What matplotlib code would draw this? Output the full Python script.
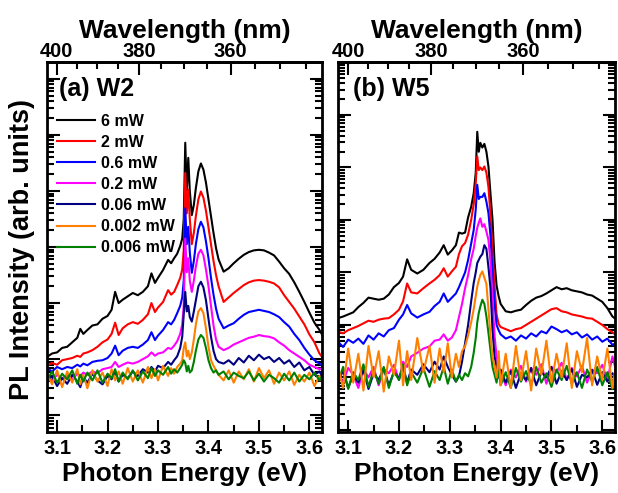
import numpy as np
import matplotlib
matplotlib.use('Agg')
import matplotlib.pyplot as plt
from matplotlib.ticker import MultipleLocator, LogLocator, NullFormatter, FixedLocator, FormatStrFormatter

# ---------------- data (log10 of PL intensity, arb. units) ----------------
powers = ['6 mW', '2 mW', '0.6 mW', '0.2 mW', '0.06 mW', '0.002 mW', '0.006 mW']
colors = ['#000000', '#ff0000', '#0000ff', '#ff00ff', '#000080', '#ff8000', '#008000']

energy_w2 = [3.080, 3.090, 3.100, 3.110, 3.120, 3.130, 3.140, 3.146, 3.152, 3.160,
             3.170, 3.180, 3.190, 3.200, 3.208, 3.215, 3.222, 3.230, 3.240, 3.250,
             3.260, 3.270, 3.280, 3.287, 3.294, 3.300, 3.310, 3.320, 3.326, 3.332,
             3.338, 3.344, 3.348, 3.351, 3.354, 3.357, 3.360, 3.363, 3.367, 3.371,
             3.375, 3.380, 3.385, 3.390, 3.395, 3.400, 3.405, 3.410, 3.415, 3.420,
             3.430, 3.440, 3.450, 3.460, 3.470, 3.480, 3.490, 3.500, 3.510, 3.520,
             3.530, 3.540, 3.550, 3.560, 3.570, 3.580, 3.590, 3.600, 3.610, 3.620, 3.625]

w2_6mW = [2.04, 2.10, 2.12, 2.20, 2.22, 2.30, 2.38, 2.54, 2.45, 2.52,
          2.60, 2.62, 2.72, 2.77, 2.88, 3.20, 3.00, 3.06, 3.12, 3.18,
          3.14, 3.20, 3.30, 3.53, 3.36, 3.45, 3.59, 3.77, 3.71, 3.80,
          3.88, 4.02, 4.15, 4.50, 5.86, 5.00, 5.59, 5.00, 4.57, 4.75,
          5.05, 5.35, 5.49, 5.38, 5.15, 4.85, 4.55, 4.25, 3.98, 3.78,
          3.56, 3.62, 3.71, 3.79, 3.86, 3.91, 3.94, 3.95, 3.94, 3.90,
          3.85, 3.74, 3.62, 3.52, 3.37, 3.20, 3.02, 2.83, 2.65, 2.52, 2.44]
w2_2mW = [1.89, 1.93, 1.90, 1.98, 2.00, 2.02, 2.06, 2.04, 2.10, 2.12,
          2.16, 2.22, 2.30, 2.35, 2.45, 2.65, 2.43, 2.55, 2.62, 2.66,
          2.63, 2.70, 2.80, 3.00, 2.84, 2.92, 3.02, 3.23, 3.15, 3.20,
          3.32, 3.45, 3.60, 3.95, 5.32, 4.60, 5.02, 4.50, 4.05, 4.25,
          4.55, 4.85, 4.99, 4.88, 4.65, 4.35, 4.05, 3.75, 3.50, 3.30,
          3.02, 3.10, 3.18, 3.25, 3.32, 3.37, 3.40, 3.41, 3.40, 3.38,
          3.35, 3.28, 3.14, 3.02, 2.90, 2.76, 2.62, 2.44, 2.30, 2.10, 2.04]
w2_06mW = [1.84, 1.78, 1.86, 1.82, 1.86, 1.84, 1.90, 1.87, 1.92, 1.89,
           1.95, 1.97, 1.98, 2.02, 2.10, 2.24, 2.07, 2.15, 2.20, 2.22,
           2.20, 2.26, 2.34, 2.48, 2.34, 2.42, 2.52, 2.66, 2.62, 2.70,
           2.82, 2.95, 3.10, 3.40, 4.69, 4.05, 4.36, 3.90, 3.54, 3.75,
           4.05, 4.32, 4.45, 4.35, 4.10, 3.80, 3.45, 3.15, 2.90, 2.72,
           2.55, 2.60, 2.64, 2.72, 2.79, 2.84, 2.86, 2.88, 2.86, 2.84,
           2.80, 2.75, 2.66, 2.58, 2.45, 2.34, 2.20, 2.08, 1.98, 1.92, 1.88]
w2_02mW = [1.68, 1.62, 1.72, 1.66, 1.71, 1.64, 1.74, 1.70, 1.76, 1.72,
           1.78, 1.75, 1.82, 1.84, 1.86, 1.95, 1.86, 1.90, 1.94, 1.92,
           1.95, 2.00, 2.05, 2.12, 2.06, 2.10, 2.12, 2.20, 2.18, 2.24,
           2.32, 2.45, 2.62, 2.95, 4.15, 3.55, 3.80, 3.40, 3.20, 3.40,
           3.65, 3.88, 3.95, 3.85, 3.60, 3.30, 2.95, 2.60, 2.35, 2.22,
           2.16, 2.20, 2.26, 2.30, 2.34, 2.38, 2.40, 2.43, 2.41, 2.40,
           2.37, 2.30, 2.24, 2.16, 2.10, 2.04, 1.98, 1.90, 1.86, 1.82, 1.84]
w2_006mW = [1.58, 1.70, 1.52, 1.66, 1.56, 1.72, 1.60, 1.50, 1.68, 1.58,
            1.74, 1.62, 1.55, 1.70, 1.64, 1.78, 1.60, 1.72, 1.66, 1.78,
            1.70, 1.82, 1.76, 1.86, 1.78, 1.88, 1.84, 1.95, 1.90, 1.98,
            2.05, 2.20, 2.40, 2.80, 3.20, 2.85, 2.95, 2.75, 2.67, 2.85,
            3.05, 3.30, 3.38, 3.28, 3.05, 2.72, 2.40, 2.15, 2.00, 1.95,
            1.92, 1.98, 1.90, 2.02, 1.94, 2.06, 1.98, 2.08, 2.00, 2.04,
            1.95, 2.02, 1.92, 1.98, 1.86, 1.94, 1.80, 1.86, 1.72, 1.78, 1.70]
w2_0002mW = [1.75, 1.55, 1.80, 1.50, 1.78, 1.58, 1.82, 1.55, 1.72, 1.48,
             1.80, 1.60, 1.76, 1.52, 1.82, 1.62, 1.78, 1.56, 1.84, 1.60,
             1.80, 1.58, 1.86, 1.66, 1.82, 1.62, 1.88, 1.70, 1.84, 1.74,
             1.86, 1.92, 1.98, 2.20, 2.30, 2.05, 2.15, 2.00, 2.12, 2.35,
             2.62, 2.85, 2.91, 2.82, 2.55, 2.22, 1.98, 1.88, 1.80, 1.72,
             1.62, 1.80, 1.58, 1.78, 1.64, 1.82, 1.60, 1.84, 1.66, 1.80,
             1.56, 1.76, 1.62, 1.78, 1.54, 1.72, 1.60, 1.76, 1.52, 1.70, 1.60]
w2_0006mW = [1.62, 1.78, 1.58, 1.74, 1.64, 1.80, 1.56, 1.72, 1.60, 1.76,
             1.62, 1.80, 1.58, 1.74, 1.66, 1.82, 1.60, 1.76, 1.64, 1.80,
             1.62, 1.78, 1.66, 1.84, 1.70, 1.80, 1.72, 1.86, 1.74, 1.82,
             1.76, 1.84, 1.90, 1.98, 1.93, 1.78, 1.88, 1.76, 1.80, 1.95,
             2.15, 2.35, 2.43, 2.38, 2.20, 1.98, 1.84, 1.76, 1.80, 1.72,
             1.78, 1.64, 1.76, 1.70, 1.66, 1.78, 1.62, 1.74, 1.60, 1.72,
             1.66, 1.58, 1.74, 1.62, 1.76, 1.60, 1.72, 1.64, 1.76, 1.62, 1.70]

energy_w5 = [3.080, 3.090, 3.100, 3.110, 3.120, 3.130, 3.140, 3.150, 3.160, 3.170,
             3.180, 3.190, 3.200, 3.208, 3.216, 3.224, 3.236, 3.248, 3.260, 3.270,
             3.280, 3.288, 3.296, 3.304, 3.312, 3.318, 3.324, 3.330, 3.336, 3.342,
             3.347, 3.351, 3.354, 3.357, 3.360, 3.364, 3.368, 3.372, 3.376, 3.380,
             3.384, 3.388, 3.392, 3.396, 3.400, 3.410, 3.420, 3.430, 3.440, 3.450,
             3.460, 3.470, 3.480, 3.490, 3.500, 3.510, 3.520, 3.530, 3.540, 3.550,
             3.560, 3.570, 3.580, 3.590, 3.600, 3.610, 3.620, 3.628]

w5_6mW = [2.13, 2.16, 2.20, 2.24, 2.34, 2.42, 2.52, 2.50, 2.48, 2.50,
          2.58, 2.72, 2.80, 2.92, 3.25, 3.05, 2.98, 3.05, 3.18, 3.26,
          3.38, 3.52, 3.34, 3.42, 3.52, 3.76, 3.74, 3.76, 4.05, 4.25,
          4.51, 4.90, 5.68, 5.30, 5.47, 5.38, 5.45, 5.30, 5.02, 4.50,
          4.00, 3.20, 2.75, 2.55, 2.40, 2.26, 2.24, 2.27, 2.29, 2.38,
          2.46, 2.52, 2.55, 2.60, 2.66, 2.72, 2.68, 2.70, 2.66, 2.64,
          2.62, 2.58, 2.56, 2.50, 2.44, 2.32, 2.16, 2.10]
w5_2mW = [1.87, 1.84, 1.90, 1.94, 1.98, 2.03, 2.08, 2.06, 2.10, 2.12,
          2.13, 2.20, 2.29, 2.45, 2.79, 2.62, 2.60, 2.70, 2.79, 2.86,
          2.95, 3.08, 2.92, 3.02, 3.11, 3.35, 3.50, 3.56, 3.72, 4.00,
          4.30, 4.70, 5.21, 4.95, 5.00, 4.95, 5.02, 4.90, 4.63, 4.10,
          3.40, 2.75, 2.20, 2.02, 1.96, 1.92, 1.88, 1.92, 1.94, 2.00,
          2.06, 2.12, 2.18, 2.24, 2.30, 2.32, 2.26, 2.24, 2.20, 2.18,
          2.16, 2.13, 2.12, 2.06, 2.00, 1.92, 1.86, 1.80]
w5_06mW = [1.68, 1.58, 1.72, 1.66, 1.74, 1.64, 1.80, 1.72, 1.84, 1.78,
           1.90, 1.94, 2.10, 2.20, 2.38, 2.22, 2.14, 2.20, 2.25, 2.36,
           2.44, 2.60, 2.44, 2.52, 2.60, 2.72, 2.86, 3.00, 3.24, 3.55,
           3.81, 4.20, 4.67, 4.40, 4.44, 4.44, 4.51, 4.35, 4.13, 3.70,
           3.00, 2.40, 2.00, 1.90, 1.82, 1.74, 1.78, 1.70, 1.80, 1.74,
           1.84, 1.78, 1.88, 1.84, 1.97, 1.92, 1.86, 1.90, 1.82, 1.86,
           1.76, 1.82, 1.72, 1.78, 1.68, 1.74, 1.62, 1.66]
w5_02mW = [1.10, 0.90, 1.18, 1.05, 0.80, 1.16, 1.00, 1.20, 0.85, 1.15,
           1.08, 1.24, 0.95, 1.30, 1.20, 1.40, 1.47, 1.55, 1.59, 1.70,
           1.72, 1.82, 1.70, 1.76, 1.90, 2.15, 2.40, 2.70, 2.95, 3.25,
           3.45, 3.70, 3.85, 3.95, 4.03, 3.87, 3.92, 3.78, 3.62, 3.20,
           2.50, 1.80, 1.40, 1.20, 1.10, 0.85, 1.15, 1.00, 1.22, 0.92,
           1.18, 1.05, 1.25, 0.88, 1.20, 1.10, 1.28, 0.95, 1.18, 1.02,
           1.22, 0.90, 1.15, 1.08, 1.24, 0.95, 1.40, 1.10]
w5_006mW = [0.95, 1.12, 0.80, 1.05, 0.90, 1.14, 0.78, 1.08, 0.95, 1.18,
            0.85, 1.10, 0.98, 1.20, 0.90, 1.15, 1.05, 1.25, 1.10, 1.30,
            1.15, 1.40, 1.20, 1.05, 0.92, 1.02, 1.30, 1.65, 2.00, 2.45,
            2.80, 3.00, 3.18, 3.24, 3.30, 3.35, 3.52, 3.45, 3.10, 2.70,
            1.90, 1.40, 1.20, 1.00, 1.15, 0.90, 1.12, 0.80, 1.08, 0.95,
            1.18, 0.85, 1.10, 1.00, 1.20, 0.88, 1.12, 0.95, 1.16, 0.82,
            1.05, 1.00, 1.14, 0.86, 1.10, 0.92, 1.08, 0.98]
w5_0002mW = [1.20, 0.80, 1.55, 0.90, 1.45, 0.75, 1.60, 1.00, 1.50, 0.73,
             1.40, 1.05, 1.70, 0.85, 1.50, 0.95, 1.75, 1.10, 1.60, 0.90,
             1.55, 1.10, 1.65, 1.00, 1.45, 1.20, 1.50, 1.59, 1.80, 2.05,
             2.30, 2.55, 2.73, 2.85, 2.95, 3.02, 2.90, 2.78, 2.30, 1.80,
             1.40, 1.21, 1.00, 1.50, 0.85, 1.45, 0.80, 1.60, 0.95, 1.50,
             0.75, 1.55, 1.05, 1.70, 0.90, 1.45, 1.00, 1.65, 0.80, 1.50,
             1.10, 1.75, 0.85, 1.40, 0.95, 1.55, 0.80, 1.30]
w5_0006mW = [0.90, 1.20, 0.78, 1.10, 0.95, 1.25, 0.82, 1.15, 0.88, 1.20,
             0.80, 1.12, 0.95, 1.25, 0.85, 1.10, 0.90, 1.18, 0.82, 1.12,
             0.95, 1.20, 0.88, 1.15, 0.92, 1.05, 0.95, 1.08, 1.02, 1.20,
             1.47, 1.75, 2.05, 2.23, 2.35, 2.48, 2.40, 2.16, 1.85, 1.52,
             1.20, 1.05, 0.90, 1.15, 0.85, 1.10, 0.80, 1.18, 0.92, 1.12,
             0.85, 1.20, 0.90, 1.08, 0.82, 1.15, 0.95, 1.22, 0.88, 1.10,
             0.80, 1.15, 0.92, 1.20, 0.85, 1.10, 0.78, 1.15]

series_w2 = [w2_6mW, w2_2mW, w2_06mW, w2_02mW, w2_006mW, w2_0002mW, w2_0006mW]
series_w5 = [w5_6mW, w5_2mW, w5_06mW, w5_02mW, w5_006mW, w5_0002mW, w5_0006mW]

# ---------------- styling ----------------
plt.rcParams['font.family'] = ['Liberation Sans', 'DejaVu Sans']
plt.rcParams['font.weight'] = 'bold'
plt.rcParams['axes.labelweight'] = 'bold'

HC = 1239.84
LABEL_FS = 19
TICK_FS = 14.5


def e2w(e):
    e = np.asarray(e, dtype=float)
    with np.errstate(divide='ignore', invalid='ignore'):
        return HC / e


fig = plt.figure(figsize=(6.18, 4.93), dpi=100)
axa = fig.add_axes([47 / 618, 61 / 493, 275 / 618, 370 / 493])
axb = fig.add_axes([338 / 618, 61 / 493, 277 / 618, 370 / 493])


def style(ax, ylim_log):
    ax.set_yscale('log')
    ax.set_xlim(3.08, 3.625)
    ax.set_ylim(10 ** ylim_log[0], 10 ** ylim_log[1])
    ax.xaxis.set_major_locator(MultipleLocator(0.1))
    ax.xaxis.set_minor_locator(MultipleLocator(0.05))
    ax.xaxis.set_major_formatter(FormatStrFormatter('%.1f'))
    ax.yaxis.set_major_locator(LogLocator(base=10, numticks=30))
    ax.yaxis.set_minor_locator(LogLocator(base=10, subs=np.arange(2, 10), numticks=100))
    ax.yaxis.set_major_formatter(NullFormatter())
    ax.yaxis.set_minor_formatter(NullFormatter())
    ax.tick_params(which='both', direction='in', top=False, right=True, width=1.5)
    ax.tick_params(which='major', length=9)
    ax.tick_params(which='minor', length=5)
    ax.tick_params(axis='x', labelsize=TICK_FS, pad=5)
    for sp in ax.spines.values():
        sp.set_linewidth(2)
    for lab in ax.get_xticklabels():
        lab.set_fontweight('bold')
    ax.set_xlabel('Photon Energy (eV)', fontsize=LABEL_FS, fontweight='bold', labelpad=3)

    sec = ax.secondary_xaxis('top', functions=(e2w, e2w))
    sec.xaxis.set_major_locator(FixedLocator([400, 380, 360]))
    sec.xaxis.set_minor_locator(FixedLocator([395, 390, 385, 375, 370, 365, 355, 350, 345]))
    sec.tick_params(which='both', direction='in', width=1.5, labelsize=TICK_FS, pad=0.5)
    sec.tick_params(which='major', length=9)
    sec.tick_params(which='minor', length=5)
    for sp in sec.spines.values():
        sp.set_linewidth(2)
    for lab in sec.get_xticklabels():
        lab.set_fontweight('bold')
    sec.set_xlabel('Wavelength (nm)', fontsize=LABEL_FS, fontweight='bold', labelpad=3)
    return sec


# panel (a)
for vals, col, lab in zip(series_w2, colors, powers):
    axa.plot(energy_w2, 10 ** np.asarray(vals), color=col, lw=1.5, label=lab)
style(axa, (0.70, 7.30))
axa.text(0.045, 0.96, '(a) W2', transform=axa.transAxes, fontsize=18,
         fontweight='bold', va='top', ha='left')
axa.legend(loc='upper left', bbox_to_anchor=(0.035, 0.86), frameon=False,
           prop={'weight': 'bold', 'size': 11.5}, handlelength=2.4,
           handletextpad=0.35, labelspacing=0.38, borderaxespad=0, borderpad=0)

# panel (b)
order_b = [0, 1, 2, 3, 4, 6, 5]
for i in order_b:
    axb.plot(energy_w5, 10 ** np.asarray(series_w5[i]), color=colors[i], lw=1.5)
style(axb, (-0.04, 7.01))
axb.text(0.055, 0.96, '(b) W5', transform=axb.transAxes, fontsize=18,
         fontweight='bold', va='top', ha='left')

fig.text(22 / 618, (493 - 250) / 493, 'PL Intensity (arb. units)', rotation=90,
         ha='center', va='center', fontsize=19.5, fontweight='bold')

fig.savefig('out.png', dpi=100)
